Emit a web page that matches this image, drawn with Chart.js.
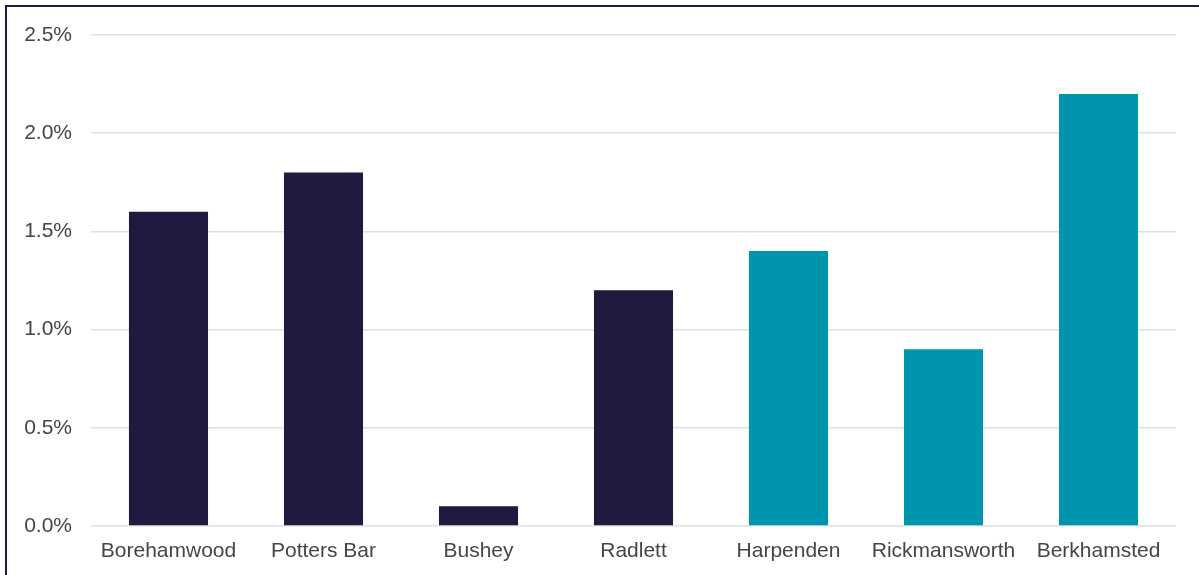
<!DOCTYPE html>
<html>
<head>
<meta charset="utf-8">
<script src="https://cdn.jsdelivr.net/npm/chart.js@4"></script>
<style>
  html, body { margin: 0; padding: 0; background: #fff; }
  #wrap { position: relative; width: 1199px; height: 575px; overflow: hidden; }
  #frame { position: absolute; left: 5px; top: 5px; width: 1300px; height: 700px;
           border-left: 2px solid #1f1a40; border-top: 2px solid #1f1a40; pointer-events: none; }
  canvas { position: absolute; left: 0; top: 0; }
</style>
</head>
<body>
<div id="wrap">
  <canvas id="c" width="1199" height="575"></canvas>
  <div id="frame"></div>
</div>
<script>
// Town names along the x axis
const towns = ['Borehamwood', 'Potters Bar', 'Bushey', 'Radlett', 'Harpenden', 'Rickmansworth', 'Berkhamsted'];
// Percentage value per town
const values = [1.6, 1.8, 0.1, 1.2, 1.4, 0.9, 2.2];
// Bar colour per town (two groups)
const barColours = ['#1f1a40', '#1f1a40', '#1f1a40', '#1f1a40', '#0095ae', '#0095ae', '#0095ae'];
// Y axis range and step
const yMin = 0, yMax = 2.5, yStep = 0.5;

const font = { family: '"Liberation Sans", Arial, sans-serif', size: 21 };

new Chart(document.getElementById('c'), {
  type: 'bar',
  data: {
    labels: towns,
    datasets: [{
      data: values,
      backgroundColor: barColours,
      borderWidth: 0,
      categoryPercentage: 1,
      barPercentage: 0.51
    }]
  },
  options: {
    responsive: false,
    animation: false,
    layout: { padding: { top: 35, right: 23, bottom: 0, left: 0 } },
    plugins: { legend: { display: false }, tooltip: { enabled: false } },
    scales: {
      x: {
        grid: { display: false, drawTicks: false },
        border: { display: false },
        ticks: { color: '#454545', font: font, padding: 13, maxRotation: 0, autoSkip: false },
        afterFit: s => { s.height = 49; }
      },
      y: {
        min: yMin, max: yMax,
        grid: { color: '#e0e0e0', lineWidth: 1.5, drawTicks: false },
        border: { display: false },
        ticks: {
          stepSize: yStep, color: '#454545', font: font, padding: 19,
          callback: v => v.toFixed(1) + '%'
        },
        afterFit: s => { s.width = 91; }
      }
    }
  }
});
</script>
</body>
</html>
